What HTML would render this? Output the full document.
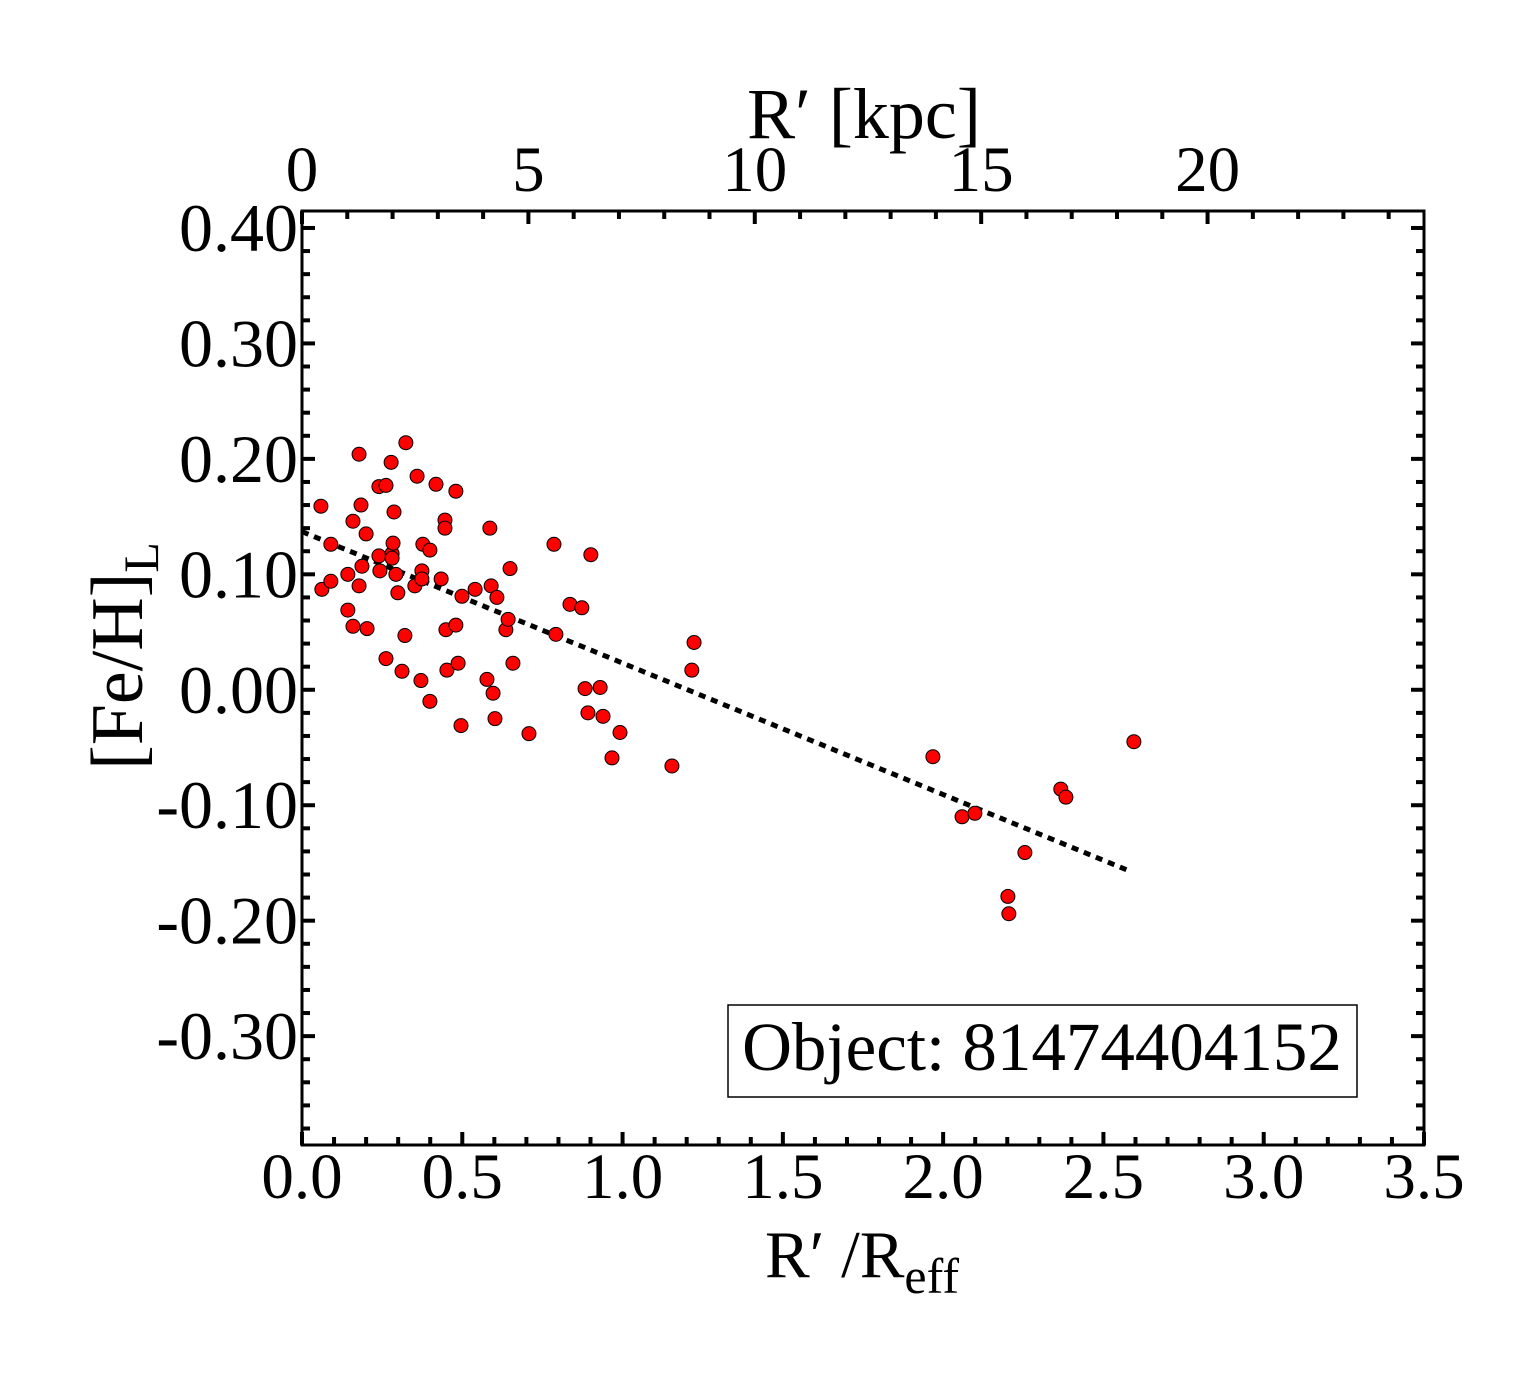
<!DOCTYPE html>
<html><head><meta charset="utf-8"><style>
html,body{margin:0;padding:0;background:#fff;}
svg{display:block;font-family:"Liberation Serif",serif;}
</style></head><body>
<svg id="chart" width="1540" height="1375" viewBox="0 0 1540 1375" xmlns="http://www.w3.org/2000/svg"></svg>
<script>
const xVals=[0.059,0.062,0.090,0.090,0.143,0.143,0.159,0.159,0.178,0.178,0.184,0.187,0.200,0.203,0.240,0.240,0.243,0.262,0.262,0.278,0.281,0.281,0.284,0.287,0.293,0.299,0.312,0.321,0.324,0.352,0.359,0.371,0.374,0.374,0.377,0.399,0.399,0.418,0.434,0.446,0.446,0.449,0.452,0.480,0.480,0.487,0.496,0.499,0.540,0.577,0.586,0.590,0.596,0.602,0.608,0.636,0.643,0.649,0.658,0.708,0.786,0.792,0.836,0.873,0.883,0.892,0.901,0.930,0.939,0.967,0.992,1.154,1.216,1.223,1.968,2.059,2.099,2.202,2.205,2.255,2.367,2.383,2.595];
const yVals=[0.159,0.087,0.126,0.094,0.100,0.069,0.146,0.055,0.204,0.090,0.160,0.107,0.135,0.053,0.176,0.116,0.103,0.177,0.027,0.197,0.118,0.114,0.127,0.154,0.100,0.084,0.016,0.047,0.214,0.090,0.185,0.008,0.103,0.096,0.126,0.121,-0.010,0.178,0.096,0.147,0.140,0.052,0.017,0.172,0.056,0.023,-0.031,0.081,0.087,0.009,0.140,0.090,-0.003,-0.025,0.080,0.052,0.061,0.105,0.023,-0.038,0.126,0.048,0.074,0.071,0.001,-0.020,0.117,0.002,-0.023,-0.059,-0.037,-0.066,0.017,0.041,-0.058,-0.110,-0.107,-0.179,-0.194,-0.141,-0.086,-0.093,-0.045];
const fitX=[0.0,2.573];
const fitY=[0.137,-0.156];
const xTicks=["0.0","0.5","1.0","1.5","2.0","2.5","3.0","3.5"];
const yTicks=["0.40","0.30","0.20","0.10","0.00","-0.10","-0.20","-0.30"];
const topTicks=["0","5","10","15","20"];

const L=302,R=1424,T=211,B=1145;
const X0=0,X1=3.5,Y0=-0.3943,Y1=0.4147;
const kpcPerReff=7.08;
function sx(v){return L+(v-X0)/(X1-X0)*(R-L);}
function sy(v){return B-(v-Y0)/(Y1-Y0)*(B-T);}
function skpc(k){return sx(k/kpcPerReff);}
const NS="http://www.w3.org/2000/svg";
const svg=document.getElementById('chart');
function el(tag,attrs,parent){const e=document.createElementNS(NS,tag);for(const k in attrs)e.setAttribute(k,attrs[k]);(parent||svg).appendChild(e);return e;}

const tg=el('g',{stroke:'#000','stroke-width':4});


for(let i=0;i<=35;i++){const v=i/10;const x=sx(v);const len=(i%5===0)?13:8;
  el('line',{x1:x,y1:B,x2:x,y2:B-len},tg);}
for(let k=0;k<=24;k++){const x=skpc(k);if(x>R)break;const len=(k%5===0)?13:8;
  el('line',{x1:x,y1:T,x2:x,y2:T+len},tg);}
for(let i=-20;i<=21;i++){const v=i*0.02;const y=sy(v);if(y<T-1||y>B+1)continue;const len=(i%5===0)?13:8;
  el('line',{x1:L,y1:y,x2:L+len,y2:y},tg);el('line',{x1:R,y1:y,x2:R-len,y2:y},tg);}

const fr=el('rect',{x:L,y:T,width:R-L,height:B-T,fill:'none',stroke:'#000','stroke-width':3});



xTicks.forEach(t=>{const e=el('text',{x:sx(parseFloat(t)),y:1198,'font-size':65,'text-anchor':'middle'});e.textContent=t;
  
  });
yTicks.forEach(t=>{const e=el('text',{x:298,y:sy(parseFloat(t))+23,'font-size':68,'text-anchor':'end'});e.textContent=t;
  
  });
topTicks.forEach(t=>{const e=el('text',{x:skpc(parseFloat(t)),y:191,'font-size':65,'text-anchor':'middle'});e.textContent=t;
  
  });

const fl=el('line',{x1:sx(fitX[0]),y1:sy(fitY[0]),x2:sx(fitX[1]),y2:sy(fitY[1]),stroke:'#000','stroke-width':5,'stroke-dasharray':'7,6'});



xVals.forEach((v,i)=>{const c=el('circle',{cx:sx(v),cy:sy(yVals[i]),r:7,fill:'#f00',stroke:'#000','stroke-width':1});
  
  });
</script>
<svg style="position:absolute;left:0;top:0" width="1540" height="1375" xmlns="http://www.w3.org/2000/svg" font-family="Liberation Serif, serif">
<text x="864" y="138" font-size="72" text-anchor="middle">R′ [kpc]</text>
<text x="862" y="1277" font-size="67" text-anchor="middle">R′ /R<tspan font-size="50" dy="16">eff</tspan></text>
<text transform="translate(142,656) rotate(-90)" font-size="74" text-anchor="middle">[Fe/H]<tspan font-size="50" dy="16">L</tspan></text>
<g>
<rect x="728" y="1005" width="629" height="92" fill="#fff" stroke="#000" stroke-width="1.5"/>
<text x="1042" y="1070" font-size="69" text-anchor="middle">Object: 81474404152</text>
</g>
</svg>
</body></html>
